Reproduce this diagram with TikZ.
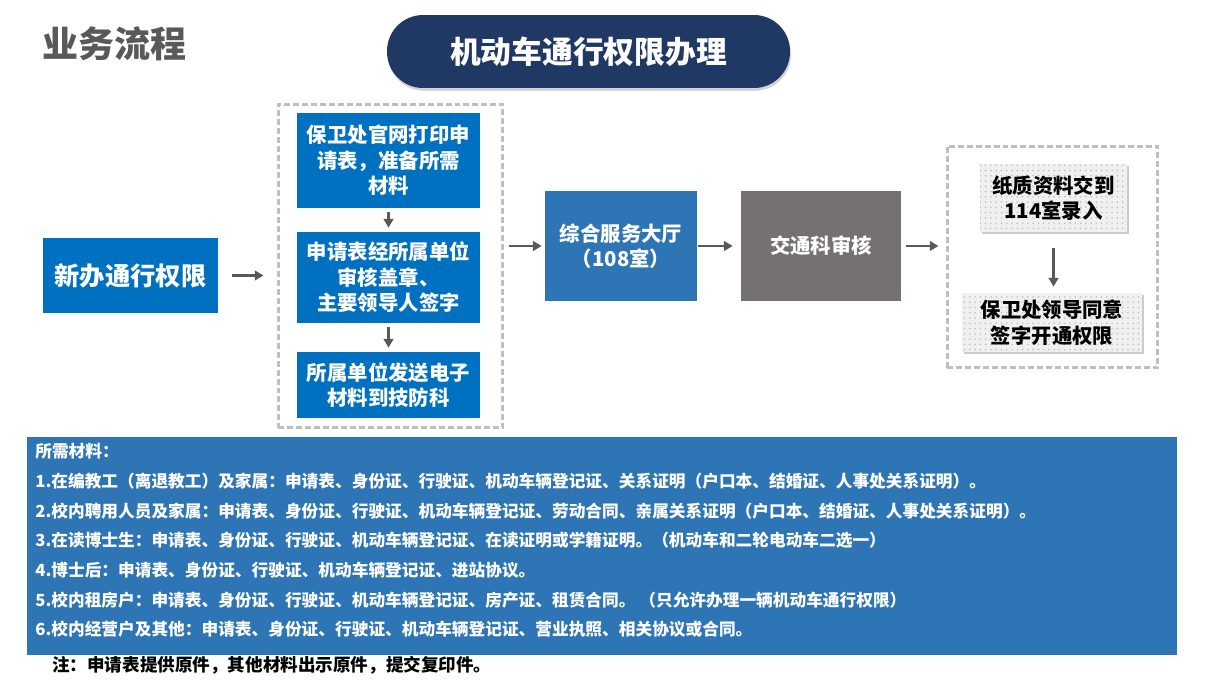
\documentclass[tikz,border=0pt]{standalone}
\usepackage{fontspec}
\setmainfont{Noto Sans CJK SC}
\usetikzlibrary{shadows,patterns,arrows.meta}

\definecolor{navy}{HTML}{203864}
\definecolor{mblue}{HTML}{0070C0}
\definecolor{sblue}{HTML}{2E75B6}
\definecolor{dgray}{HTML}{767171}
\definecolor{agray}{HTML}{595959}
\definecolor{lgray}{HTML}{BFBFBF}

\begin{document}
\begin{tikzpicture}[x=0.02cm, y=-0.02cm,
    box/.style={inner sep=0pt, align=center, text=white, font=\bfseries\fontsize{11.6}{14.5}\selectfont},
    bluebox/.style={box, fill=mblue, minimum width=3.66cm},
    grpbox/.style={draw=lgray, line width=1.7pt, dash pattern=on 3.4pt off 1.7pt, inner sep=0pt},
    paperbox/.style={box, text=black, fill=gray!12, drop shadow={shadow xshift=1.2pt, shadow yshift=-1.2pt, opacity=0.4},
        postaction={pattern=dots, pattern color=gray!50}},
    arr/.style={draw=agray, line width=1.4pt, -{Triangle[length=5pt, width=5.5pt]}}]
    \useasboundingbox (0,0) rectangle (1207,687);

    % Title
    \node [anchor=west, text=agray, font=\bfseries\fontsize{20.5}{24}\selectfont] (head) at (36,44) {业务流程};
    \node [minimum width=8.06cm, minimum height=1.46cm, inner sep=0pt, fill=navy, rounded corners=0.72cm,
        drop shadow={shadow xshift=0.6pt, shadow yshift=-1.6pt, opacity=0.35},
        text=white, font=\bfseries\fontsize{17.5}{20}\selectfont] (title) at (588.5,51.5) {机动车通行权限办理};

    % Steps
    \node [bluebox, minimum width=3.5cm, minimum height=1.5cm, font=\bfseries\fontsize{14.4}{17}\selectfont] (new) at (130.5,275.5) {新办通行权限};
    \node [grpbox, minimum width=4.5cm, minimum height=6.48cm] (grp1) at (390.5,266) {};
    \node [bluebox, minimum height=1.9cm] (forma) at (388.5,160.5) {保卫处官网打印申\\请表，准备所需\\材料};
    \node [bluebox, minimum height=1.82cm] (formb) at (388.5,277.5) {申请表经所属单位\\审核盖章、\\主要领导人签字};
    \node [bluebox, minimum height=1.32cm] (formc) at (388.5,385) {所属单位发送电子\\材料到技防科};
    \node [box, fill=sblue, minimum width=3.04cm, minimum height=2.2cm] (hall) at (621,246) {综合服务大厅\\（108室）};
    \node [box, fill=dgray, minimum width=3.2cm, minimum height=2.2cm] (traffic) at (821,246) {交通科审核};
    \node [grpbox, minimum width=4.22cm, minimum height=4.44cm] (grp2) at (1052.5,257) {};
    \node [paperbox, minimum width=2.94cm, minimum height=1.36cm] (paper) at (1053.5,198) {纸质资料交到\\114室录入};
    \node [paperbox, minimum width=3.6cm, minimum height=1.18cm] (sign) at (1052,322.5) {保卫处领导同意\\签字开通权限};

    % Arrows
    \draw [arr, shorten <=0.28cm, shorten >=0.26cm] (new.east) -- (new.east -| grp1.west);
    \draw [arr, shorten <=0.08cm, shorten >=0.08cm] (forma) -- (formb);
    \draw [arr, shorten <=0.08cm, shorten >=0.08cm] (formb) -- (formc);
    \draw [arr, shorten <=0.1cm, shorten >=0.06cm] (grp1.east |- hall.west) -- (hall.west);
    \draw [arr, shorten <=0.02cm, shorten >=0.16cm] (hall) -- (traffic);
    \draw [arr, shorten <=0.1cm, shorten >=0.14cm] (traffic.east) -- (traffic.east -| grp2.west);
    \draw [arr, shorten <=0.32cm, shorten >=0.12cm] (paper.south) -- (paper.south |- sign.north);

    % Materials
    \node [fill=sblue, minimum width=23cm, minimum height=4.36cm, inner sep=0pt] (panel) at (602,546) {};
    \node [anchor=north west, align=left, inner sep=0pt, text=white,
        font=\bfseries\fontsize{9.5}{16.9}\selectfont] (list) at (35,443)
        {所需材料：\\
         1.在编教工（离退教工）及家属：申请表、身份证、行驶证、机动车辆登记证、关系证明（户口本、结婚证、人事处关系证明）。\\
         2.校内聘用人员及家属：申请表、身份证、行驶证、机动车辆登记证、劳动合同、亲属关系证明（户口本、结婚证、人事处关系证明）。\\
         3.在读博士生：申请表、身份证、行驶证、机动车辆登记证、在读证明或学籍证明。（机动车和二轮电动车二选一）\\
         4.博士后：申请表、身份证、行驶证、机动车辆登记证、进站协议。\\
         5.校内租房户：申请表、身份证、行驶证、机动车辆登记证、房产证、租赁合同。\ （只允许办理一辆机动车通行权限）\\
         6.校内经营户及其他：申请表、身份证、行驶证、机动车辆登记证、营业执照、相关协议或合同。};
    \node [anchor=west, font=\bfseries\fontsize{10}{12}\selectfont] (note) at (46,665) {注：申请表提供原件，其他材料出示原件，提交复印件。};
\end{tikzpicture}
\end{document}
